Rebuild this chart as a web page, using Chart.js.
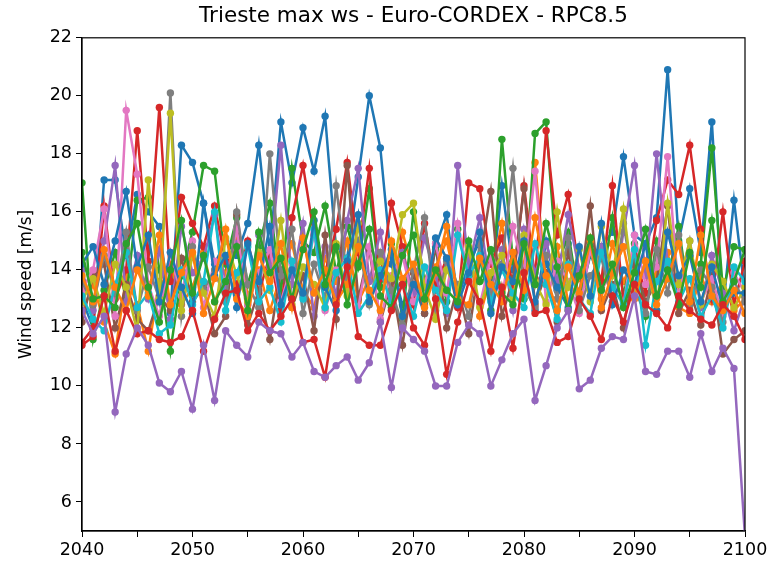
<!DOCTYPE html>
<html>
<head>
<meta charset="utf-8">
<script src="https://cdn.jsdelivr.net/npm/chart.js@4.4.1/dist/chart.umd.min.js"></script>
<style>
  html, body { margin:0; padding:0; background:#fff; }
  #wrap { width:767px; height:562px; }
</style>
</head>
<body>
<div id="wrap"><canvas id="chart" width="767" height="562"></canvas></div>
<script>
/* Trieste max wind speed, Euro-CORDEX ensemble, RCP8.5 — one line per model run */

const years = [
  2040,2041,2042,2043,2044,2045,2046,2047,2048,2049,
  2050,2051,2052,2053,2054,2055,2056,2057,2058,2059,
  2060,2061,2062,2063,2064,2065,2066,2067,2068,2069,
  2070,2071,2072,2073,2074,2075,2076,2077,2078,2079,
  2080,2081,2082,2083,2084,2085,2086,2087,2088,2089,
  2090,2091,2092,2093,2094,2095,2096,2097,2098,2099,
  2100
];

const xTicks = [2040,2045,2050,2055,2060,2065,2070,2075,2080,2085,2090,2095,2100];
const yTicks = [6,8,10,12,14,16,18,20,22];

const run01 = [13.0,12.0,17.1,17.1,14.5,16.6,16.0,15.5,12.5,18.3,
  17.7,16.3,14.2,15.0,14.5,15.6,18.3,14.6,19.1,17.0,
  18.9,17.4,19.3,14.7,14.4,17.2,20.0,18.2,14.2,12.8,
  13.5,12.5,14.8,15.9,13.0,14.2,15.0,13.2,16.9,14.0,
  13.5,12.6,15.0,13.3,14.9,13.0,14.5,14.8,15.3,17.9,
  15.2,14.9,15.8,20.9,15.0,16.8,14.6,19.1,12.6,16.4,
  13.2];
const run02 = [12.5,13.5,12.2,11.1,13.8,12.8,11.2,13.6,14.2,12.8,
  13.4,14.6,12.9,13.9,15.2,13.1,14.0,12.6,13.8,14.9,
  13.3,12.7,14.4,13.6,15.0,12.9,13.7,14.5,13.0,15.3,
  13.9,12.8,14.1,15.0,13.3,14.7,12.4,13.8,15.6,13.1,
  14.2,17.7,13.5,14.8,12.9,13.7,15.1,13.0,14.9,13.6,
  14.4,12.8,13.9,14.6,12.7,12.5,13.8,12.9,13.6,12.6,
  13.0];
const run03 = [17.0,11.6,13.3,14.6,13.0,16.4,16.5,14.0,11.2,13.8,
  15.3,17.6,17.4,14.2,15.8,13.5,14.8,16.3,13.2,17.5,
  15.0,14.6,16.2,13.9,15.5,14.1,16.8,13.4,14.9,12.3,
  16.0,13.6,14.7,12.9,15.4,13.8,14.4,12.6,18.5,14.3,
  13.0,18.7,19.1,14.0,15.3,12.9,14.6,13.4,15.8,13.1,
  14.9,12.4,15.0,13.7,15.5,12.8,14.2,18.2,13.3,14.8,
  14.7];
const run04 = [11.5,12.0,16.2,13.0,14.0,18.8,14.3,19.6,13.6,16.5,
  15.6,14.8,16.2,14.3,13.5,15.0,13.2,14.5,12.6,15.8,
  17.6,15.2,13.9,15.4,17.7,14.6,17.5,13.7,16.3,14.8,
  12.8,15.6,13.4,14.4,12.7,17.0,16.8,14.2,15.1,13.5,
  16.9,13.7,18.8,15.2,16.6,13.9,14.8,13.6,16.9,12.9,
  14.5,13.2,15.7,17.1,16.6,18.3,15.4,13.0,16.0,12.8,
  14.3];
const run05 = [14.0,12.6,15.0,17.6,12.9,14.5,13.0,14.7,12.3,15.5,
  13.9,14.4,15.9,13.4,14.9,12.8,15.2,14.1,18.3,13.5,
  15.6,12.4,14.8,13.1,15.7,17.5,13.6,15.3,12.9,14.6,
  13.2,15.1,13.8,12.5,17.6,14.1,15.8,13.3,14.7,12.6,
  15.4,13.9,14.9,13.6,15.9,14.0,13.1,14.8,12.9,15.3,
  17.6,13.8,18.0,14.2,13.4,15.0,12.7,14.5,13.2,11.9,
  13.1];
const run06 = [12.2,13.8,14.2,12.0,13.5,12.3,11.9,13.1,12.6,14.4,
  12.9,13.4,11.8,12.4,15.9,12.1,13.3,11.6,14.0,12.7,
  13.8,11.9,15.2,12.3,17.6,13.0,14.7,12.2,13.6,11.4,
  13.9,12.5,14.9,12.0,13.4,11.8,14.3,16.7,12.4,13.7,
  16.8,12.8,13.9,12.2,14.6,13.1,16.2,12.6,13.5,12.0,
  14.2,12.9,13.6,16.2,12.5,13.3,12.1,13.8,11.1,11.6,
  11.9];
const run07 = [13.3,14.0,16.1,12.4,19.5,17.3,13.5,12.4,14.6,13.1,
  15.0,12.7,14.3,13.6,15.4,12.8,13.9,14.7,12.9,14.2,
  13.1,15.3,12.6,14.0,13.4,12.7,14.8,12.3,13.8,14.5,
  12.9,13.5,14.9,13.2,15.6,13.7,12.8,14.4,13.0,15.5,
  13.9,17.4,12.9,14.3,13.6,12.5,14.7,13.3,14.0,12.8,
  15.2,13.5,14.1,17.9,13.2,14.6,12.9,13.7,12.4,13.9,
  13.2];
const run08 = [13.6,12.8,14.5,13.2,15.3,12.6,14.1,13.0,20.1,12.4,
  14.8,13.3,14.0,12.9,16.0,13.5,12.7,18.0,13.8,15.4,
  12.5,14.2,13.0,16.9,13.7,15.0,12.8,14.6,13.3,12.1,
  14.0,15.8,12.6,14.3,13.5,12.4,14.9,13.1,14.2,17.5,
  13.4,12.7,14.5,13.0,15.1,12.6,13.8,14.4,12.9,15.6,
  13.3,12.5,14.7,13.2,15.2,12.8,14.0,13.4,12.2,13.6,
  12.9];
const run09 = [12.9,13.7,12.5,14.2,13.4,11.9,17.1,13.0,19.4,12.6,
  14.5,13.2,12.4,15.1,13.8,12.9,14.6,13.3,15.7,12.8,
  14.1,13.5,12.7,14.9,13.1,15.6,12.9,14.3,13.7,15.9,
  16.3,13.4,12.3,14.0,13.3,14.8,12.7,13.9,14.5,13.0,
  15.2,13.6,12.8,16.0,13.4,14.7,12.9,15.5,13.8,16.1,
  13.1,14.3,12.6,16.3,13.5,15.0,12.8,14.2,13.6,12.7,
  13.4];
const run10 = [13.1,12.3,11.9,13.5,14.6,12.7,13.2,11.8,12.1,14.0,
  12.8,13.6,16.0,12.6,13.9,14.8,12.9,13.4,12.2,14.3,
  13.0,15.4,12.7,13.9,14.4,12.5,13.1,14.0,12.8,13.5,
  12.4,14.1,13.3,12.6,15.2,13.8,14.5,12.9,14.0,13.2,
  12.7,14.9,13.5,12.3,14.2,13.0,12.5,14.6,13.4,12.8,
  14.7,11.4,13.6,14.3,12.9,13.7,12.4,13.1,12.0,14.1,
  13.6];
const run11 = [14.2,14.8,13.5,15.0,16.7,14.1,15.2,12.9,14.6,13.4,
  12.5,16.3,13.8,14.5,12.7,14.9,13.6,15.5,12.8,14.0,
  13.2,15.7,13.4,12.6,14.3,15.9,12.9,13.8,14.7,12.4,
  13.5,12.9,15.1,14.4,12.8,13.9,15.3,12.5,14.1,13.6,
  15.0,12.9,14.2,13.4,12.7,14.8,13.1,15.6,12.8,14.0,
  13.5,14.9,12.6,15.3,13.8,14.5,12.9,14.1,12.7,13.2,
  13.2];
const run12 = [13.8,12.9,14.7,13.4,12.6,14.0,13.1,15.2,12.8,13.9,
  14.6,12.5,13.7,15.4,13.0,12.4,14.5,13.6,14.9,12.7,
  15.1,13.2,14.0,12.9,13.5,14.8,13.3,12.6,15.0,13.7,
  14.2,12.7,13.9,15.5,13.0,12.8,14.4,13.5,12.9,14.6,
  13.3,15.8,13.8,12.6,14.1,13.2,15.0,12.7,13.9,14.8,
  13.0,14.3,12.8,13.7,14.9,12.9,15.2,13.1,12.6,13.3,
  12.5];
const run13 = [14.6,13.0,13.1,12.7,14.9,15.6,13.4,12.2,14.0,15.7,
  13.2,14.5,12.9,13.6,14.8,12.6,15.3,13.9,14.4,13.0,
  14.7,16.0,13.5,14.8,12.8,14.2,15.4,13.1,12.7,14.5,
  15.2,13.0,14.0,13.3,12.9,15.0,13.6,14.7,13.2,12.8,
  14.9,13.5,15.6,14.1,12.6,13.8,15.1,13.3,14.2,12.7,
  13.9,15.4,13.1,14.0,12.8,14.6,13.4,15.7,12.9,13.6,
  14.7];
const run14 = [11.4,11.7,13.1,11.2,12.6,11.8,11.9,11.6,11.5,11.7,
  12.6,11.2,12.3,13.2,13.3,11.9,12.5,11.9,12.4,13.0,
  11.5,11.6,10.3,12.8,14.1,11.7,11.4,11.4,12.6,13.5,
  12.0,11.4,13.0,10.4,12.2,13.6,12.9,11.2,13.4,11.3,
  13.9,12.5,12.6,11.5,11.7,13.0,12.4,11.6,13.1,12.2,
  13.5,12.8,12.5,12.0,13.1,12.6,12.3,12.1,12.8,12.4,
  11.6];
const run15 = [12.6,11.8,12.4,9.1,11.1,12.0,11.4,10.1,9.8,10.5,
  9.2,11.4,9.5,11.9,11.4,11.0,12.2,11.9,11.8,11.0,
  11.5,10.5,10.3,10.7,11.0,10.2,10.8,12.2,9.95,12.0,
  11.6,11.2,10.0,10.0,11.5,12.1,11.8,10.0,10.9,11.8,
  12.3,9.5,10.7,12.0,12.6,9.9,10.2,11.3,11.7,11.6,
  13.1,10.5,10.4,11.2,11.2,10.3,11.8,10.5,11.3,10.6,
  4.8];

const runs = [run01,run02,run03,run04,run05,run06,run07,run08,run09,run10,run11,run12,run13,run14,run15];
// matplotlib tab10 cycle
const palette = ['#1f77b4','#ff7f0e','#2ca02c','#d62728','#9467bd','#8c564b','#e377c2','#7f7f7f','#bcbd22','#17becf'];

const datasets = runs.map((vals, i) => {
  const col = palette[i % palette.length];
  return {
    data: vals.map((v, k) => ({x: years[k], y: v})),
    borderColor: col,
    backgroundColor: col,
    borderWidth: 2.5,
    pointRadius: 3.7,
    pointBorderWidth: 0,
    pointBackgroundColor: col,
    tension: 0,
    clip: 0,
    order: runs.length - i   // later runs on top, like matplotlib
  };
});

const frame = {
  id: 'frame',
  afterDatasetsDraw(chart){
    const a = chart.chartArea, ctx = chart.ctx;
    ctx.save();
    ctx.strokeStyle = '#000';
    ctx.lineWidth = 1.2;
    ctx.strokeRect(a.left, a.top, a.right - a.left, a.bottom - a.top);
    ctx.restore();
  }
};

const tickFont = {family:'DejaVu Sans', size:17.5};

new Chart(document.getElementById('chart'), {
  type: 'line',
  data: { datasets },
  options: {
    responsive: false,
    animation: false,
    devicePixelRatio: 1,
    layout: { padding: {left:0, right:22, top:0, bottom:0} },
    plugins: {
      legend: { display:false },
      tooltip: { enabled:false },
      title: {
        display: true,
        fullSize: false,
        text: 'Trieste max ws - Euro-CORDEX - RPC8.5',
        color: '#000',
        font: {family:'DejaVu Sans', size:21.5, weight:'normal'},
        padding: {top:4, bottom:8}
      }
    },
    scales: {
      x: {
        type: 'linear',
        min: 2040, max: 2100,
        afterBuildTicks: s => { s.ticks = xTicks.map(v => ({value:v})); },
        afterFit: s => { s.height = 31; s.paddingLeft = 0; s.paddingRight = 0; },
        ticks: {
          color:'#000', font:tickFont, padding:3, maxRotation:0, autoSkip:false,
          callback: v => (v % 10 === 0 ? String(v) : '')
        },
        grid: { drawOnChartArea:false, drawTicks:true, tickLength:6, color:'#000' },
        border: { display:true, color:'#000', width:1.2 }
      },
      y: {
        min: 5, max: 22,
        afterBuildTicks: s => { s.ticks = yTicks.map(v => ({value:v})); },
        afterFit: s => { s.width = 82; s.paddingTop = 0; s.paddingBottom = 0; },
        ticks: { color:'#000', font:tickFont, padding:4 },
        grid: { drawOnChartArea:false, drawTicks:true, tickLength:6, color:'#000' },
        border: { display:true, color:'#000', width:1.2 },
        title: {
          display: true,
          text: 'Wind speed [m/s]',
          color: '#000',
          font: {family:'DejaVu Sans', size:17},
          padding: {top:16, bottom:0}
        }
      }
    }
  },
  plugins: [frame]
});
</script>
</body>
</html>
